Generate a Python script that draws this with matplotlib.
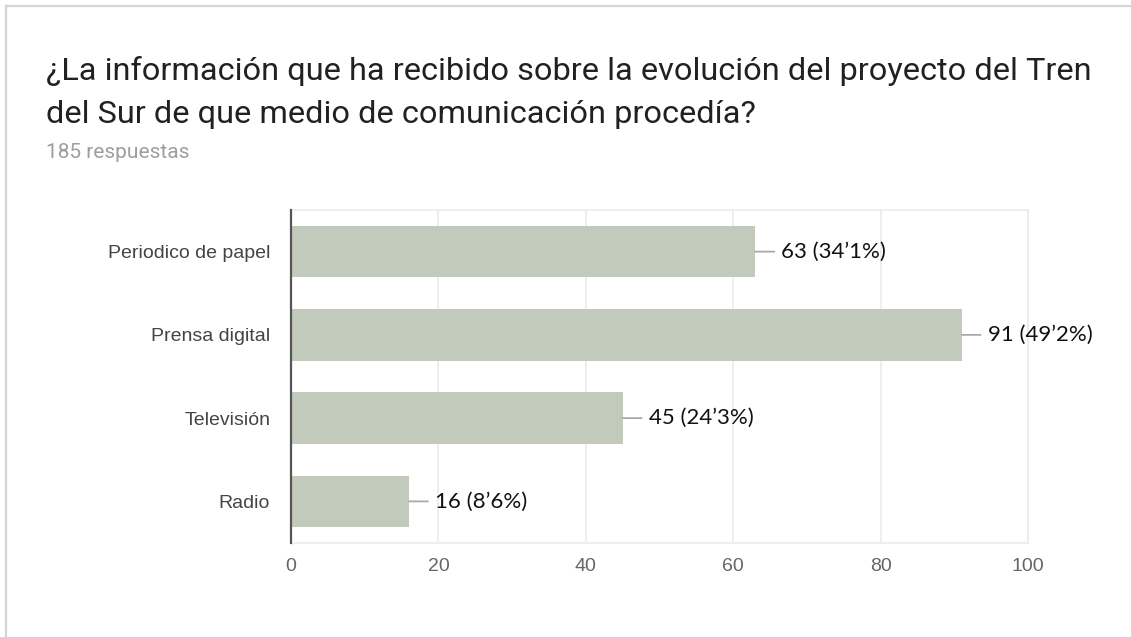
import numpy as np
import matplotlib.pyplot as plt
from matplotlib.lines import Line2D

# survey results
medios = ["Periodico de papel", "Prensa digital", "Televisión", "Radio"]
respuestas = [63, 91, 45, 16]
porcentajes = ["34’1%", "49’2%", "24’3%", "8’6%"]
total = 185
xticks = [0, 20, 40, 60, 80, 100]

W, H = 1131, 637
fig = plt.figure(figsize=(W / 100, H / 100), dpi=100)

# card border (left and top edges)
fig.add_artist(Line2D([5.5 / W, 5.5 / W], [0, 1 - 6 / H], color="#d4d4d4", lw=1.6,
                      transform=fig.transFigure))
fig.add_artist(Line2D([5.5 / W, 1], [1 - 6 / H, 1 - 6 / H], color="#d4d4d4", lw=1.6,
                      transform=fig.transFigure))

fig.text(46 / W, 1 - 80 / H, "¿La información que ha recibido sobre la evolución del proyecto del Tren",
         family="Roboto", fontsize=23.4, color="#212121", va="baseline")
fig.text(46 / W, 1 - 123 / H, "del Sur de que medio de comunicación procedía?",
         family="Roboto", fontsize=23.4, color="#212121", va="baseline")
fig.text(46 / W, 1 - 158 / H, f"{total} respuestas",
         family="Roboto", fontsize=15, color="#9e9e9e", va="baseline")

ax = fig.add_axes([291 / W, 1 - 543 / H, (1028 - 291) / W, (543 - 210) / H])
y = np.arange(len(medios))
ax.barh(y, respuestas, height=0.62, color="#c2cabb", zorder=2)
ax.set_ylim(len(medios) - 0.5, -0.5)
ax.set_xlim(0, 100)

ax.set_yticks(y)
ax.set_yticklabels(medios, family="Liberation Sans", fontsize=14, color="#444444")
ax.set_xticks(xticks)
ax.set_xticklabels([str(t) for t in xticks], family="Liberation Sans", fontsize=14, color="#666666")
ax.tick_params(axis="both", length=0)
ax.tick_params(axis="y", pad=15)
ax.tick_params(axis="x", pad=11)

ax.grid(axis="x", color="#ebebeb", lw=1.2, zorder=0)
for side in ["top", "right", "bottom"]:
    ax.spines[side].set_color("#ebebeb")
    ax.spines[side].set_linewidth(1.2)
ax.spines["left"].set_color("#555555")
ax.spines["left"].set_linewidth(1.6)
ax.spines["left"].set_zorder(3)

# value labels with short leader lines
for yi, v, p in zip(y, respuestas, porcentajes):
    ax.annotate("", xy=(v, yi), xytext=(19, 0), textcoords="offset pixels",
                arrowprops=dict(arrowstyle="-", color="#aaaaaa", lw=1.3,
                                shrinkA=0, shrinkB=0))
    ax.annotate(f"{v} ({p})", xy=(v, yi), xytext=(26, 0), textcoords="offset pixels",
                va="center", ha="left", family="Lato", fontsize=16, color="#111111")

fig.savefig("out.png", dpi=100)
